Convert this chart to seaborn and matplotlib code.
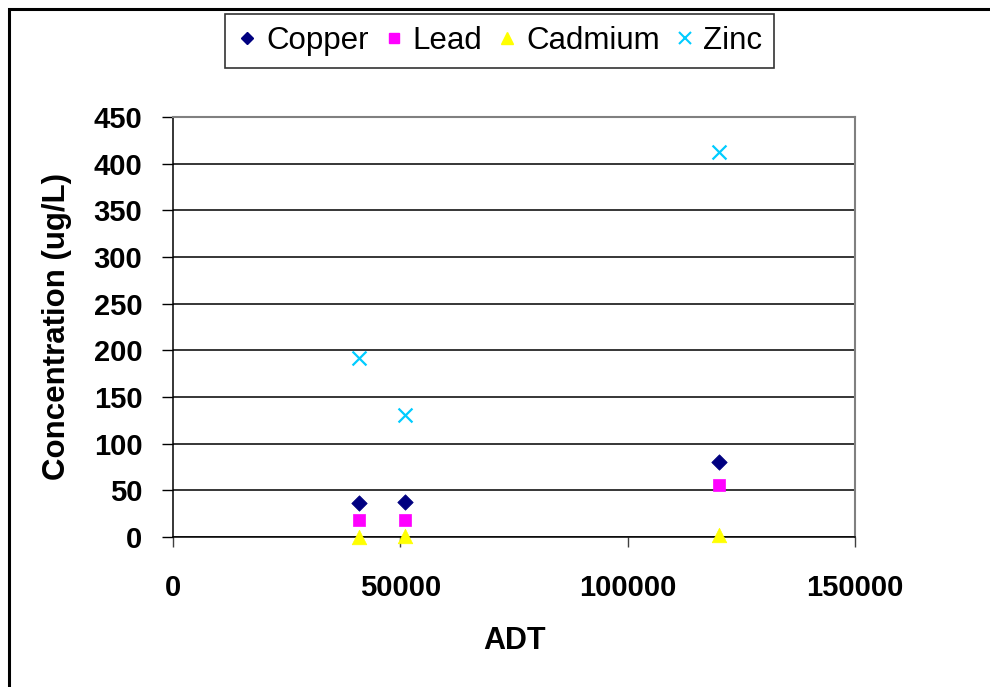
import matplotlib
matplotlib.use('Agg')
import matplotlib.pyplot as plt
from matplotlib.lines import Line2D
from matplotlib.patches import Rectangle
import seaborn as sns
import pandas as pd

# ---- data ----
adt = [41000, 51000, 120000]
copper = [36, 38, 80]
lead = [18, 18, 56]
cadmium = [0.5, 1, 2]
zinc = [192, 131, 412]
series_names = ["Copper", "Lead", "Cadmium", "Zinc"]
x_ticks = [0, 50000, 100000, 150000]
y_ticks = [0, 50, 100, 150, 200, 250, 300, 350, 400, 450]

sns.set_style('white')
plt.rcParams['font.family'] = ['Liberation Sans', 'DejaVu Sans']
plt.rcParams['text.color'] = 'black'
plt.rcParams['axes.labelcolor'] = 'black'
plt.rcParams['xtick.color'] = 'black'
plt.rcParams['ytick.color'] = 'black'

fig = plt.figure(figsize=(9.9, 6.87), dpi=100)
ax = fig.add_axes([173/990, 1-537/687, (855-173)/990, (537-117)/687])

styles = {
    "Copper": dict(marker='D', color='#000080', s=62),
    "Lead": dict(marker='s', color='#FF00FF', s=78),
    "Cadmium": dict(marker='^', color='#FFFF00', s=110),
    "Zinc": dict(marker='x', color='#00CCFF', s=100),
}
values = {"Copper": copper, "Lead": lead, "Cadmium": cadmium, "Zinc": zinc}

for name in series_names:
    df = pd.DataFrame({'ADT': adt, 'Concentration': values[name]})
    st = styles[name]
    if st['marker'] == 'x':
        sns.scatterplot(data=df, x='ADT', y='Concentration', marker='x',
                        color=st['color'], s=st['s'], linewidth=1.6, ax=ax,
                        zorder=5, legend=False, clip_on=False)
    else:
        sns.scatterplot(data=df, x='ADT', y='Concentration', marker=st['marker'],
                        color=st['color'], edgecolor=st['color'], s=st['s'],
                        linewidth=0.5, ax=ax, zorder=5, legend=False, clip_on=False)

ax.set_xlim(0, 150000)
ax.set_ylim(0, 450)
ax.set_xticks(x_ticks)
ax.set_yticks(y_ticks)
ax.set_xticklabels([str(v) for v in x_ticks])
ax.set_yticklabels([str(v) for v in y_ticks])
ax.yaxis.grid(True, color='black', linewidth=1.1)
ax.xaxis.grid(False)
ax.set_axisbelow(True)
ax.set_xlabel('')
ax.set_ylabel('')

for side in ['top', 'right']:
    ax.spines[side].set_color('#808080')
    ax.spines[side].set_linewidth(1.5)
for side in ['left', 'bottom']:
    ax.spines[side].set_color('black')
    ax.spines[side].set_linewidth(1.1)

ax.tick_params(axis='y', which='major', direction='out', length=8, width=1,
               color='black', labelcolor='black', left=True, pad=14, labelsize=21)
ax.tick_params(axis='x', which='major', direction='out', length=7, width=1,
               color='#404040', labelcolor='black', bottom=True, pad=20, labelsize=21)
for lab in ax.get_xticklabels() + ax.get_yticklabels():
    lab.set_fontweight('bold')

fig.text(57/990, 1-326/687, 'Concentration (ug/L)', rotation=90,
         ha='center', va='center', fontsize=22.5, fontweight='bold', color='black')
fig.text(515/990, 1-641/687, 'ADT', ha='center', va='center',
         fontsize=22, fontweight='bold', color='black')

handles = [
    Line2D([], [], linestyle='none', marker='D', color='#000080', markersize=6.5),
    Line2D([], [], linestyle='none', marker='s', color='#FF00FF', markersize=7.5),
    Line2D([], [], linestyle='none', marker='^', color='#FFFF00', markersize=8.5),
    Line2D([], [], linestyle='none', marker='x', color='#00CCFF', markersize=8.5,
           markeredgewidth=1.5),
]
leg = fig.legend(handles, series_names, loc='center',
                 bbox_to_anchor=(499.5/990, 1-41/687), ncol=4,
                 fontsize=22.5, frameon=True, fancybox=False, shadow=False,
                 handlelength=0.7, handletextpad=0.25, columnspacing=0.45,
                 borderpad=0.38, borderaxespad=0)
leg.get_frame().set_edgecolor('black')
leg.get_frame().set_linewidth(1.2)
for t in leg.get_texts():
    t.set_color('black')

border = Rectangle((9/990, -0.2), 1.5, 1.2 - 9/687, transform=fig.transFigure,
                   fill=False, edgecolor='black', linewidth=2.2, clip_on=False)
fig.add_artist(border)

fig.savefig('out.png', dpi=100, facecolor='white')
